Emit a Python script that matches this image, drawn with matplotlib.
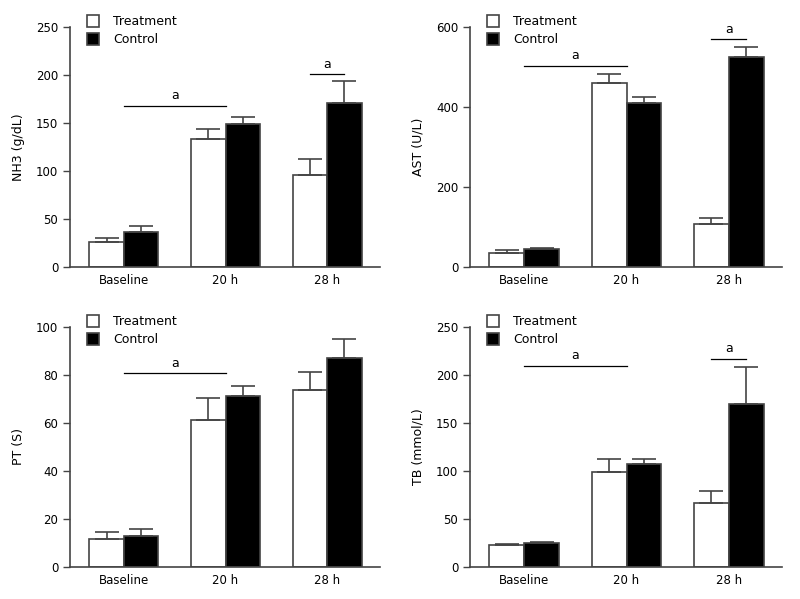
import matplotlib
matplotlib.use("Agg")
import matplotlib.pyplot as plt
import numpy as np

plt.rcParams["font.family"] = ["DejaVu Sans"]

# groups on the x axis
groups = ["Baseline", "20 h", "28 h"]

# NH3 (g/dL)
nh3_treat = [26, 133, 96]
nh3_treat_se = [4, 11, 17]
nh3_ctrl = [37, 149, 171]
nh3_ctrl_se = [6, 7, 23]

# AST (U/L)
ast_treat = [36, 460, 107]
ast_treat_se = [8, 22, 17]
ast_ctrl = [45, 410, 524]
ast_ctrl_se = [4, 15, 27]

# PT (S)
pt_treat = [11.6, 61, 73.7]
pt_treat_se = [3.1, 9.3, 7.3]
pt_ctrl = [13, 71, 87]
pt_ctrl_se = [3, 4.5, 8]

# TB (mmol/L)
tb_treat = [22.6, 99, 67]
tb_treat_se = [1.8, 13.5, 12]
tb_ctrl = [24.5, 107, 170]
tb_ctrl_se = [1.5, 5.5, 38]

# significance brackets: (from, to, height)
nh3_sig = [(0, 1, 168), (1.83, 2.17, 201)]
ast_sig = [(0, 1, 503), (1.83, 2.17, 569)]
pt_sig = [(0, 1, 80.7)]
tb_sig = [(0, 1, 209.6), (1.83, 2.17, 217)]

edge = "#444444"
w = 0.34


def panel(ax, treat, treat_se, ctrl, ctrl_se, sig, ylabel, ymax, ystep):
    x = np.arange(len(groups))
    zeros = [0] * len(groups)
    b1 = ax.bar(x - w / 2, treat, w, color="white", edgecolor=edge, linewidth=1.2,
                yerr=[zeros, treat_se], error_kw=dict(ecolor=edge, elinewidth=1.2, capsize=8.5, capthick=1.2),
                label="Treatment", zorder=2)
    b2 = ax.bar(x + w / 2, ctrl, w, color="black", edgecolor=edge, linewidth=1.2,
                yerr=[zeros, ctrl_se], error_kw=dict(ecolor=edge, elinewidth=1.2, capsize=8.5, capthick=1.2),
                label="Control", zorder=2)
    for x0, x1, y in sig:
        ax.plot([x0, x1], [y, y], color="black", lw=0.9)
        ax.annotate("a", xy=((x0 + x1) / 2, y), xytext=(0, 2.5), textcoords="offset points",
                    ha="center", va="bottom", fontsize=9)
    ax.set_xlim(-0.53, 2.52)
    ax.set_ylim(0, ymax)
    ax.set_yticks(np.arange(0, ymax + 1, ystep))
    ax.set_xticks(x)
    ax.set_xticklabels(groups)
    ax.tick_params(axis="x", length=0, pad=5, labelsize=8.5)
    ax.tick_params(axis="y", direction="out", length=5, width=1, color=edge, labelsize=8.5)
    for s in ["top", "right"]:
        ax.spines[s].set_visible(False)
    for s in ["left", "bottom"]:
        ax.spines[s].set_color(edge)
        ax.spines[s].set_linewidth(1.2)
    ax.set_ylabel(ylabel, fontsize=9, labelpad=8)
    ax.legend(handles=[b1.patches[0], b2.patches[0]], labels=["Treatment", "Control"],
              loc="upper left", bbox_to_anchor=(0.04, 1.07), frameon=False, fontsize=9,
              handlelength=0.95, handleheight=1.1, handletextpad=1.1, labelspacing=0.35,
              borderaxespad=0)


fig = plt.figure(figsize=(8, 5.99), dpi=100)
ax1 = fig.add_axes([0.0875, 0.554, 0.3875, 0.401])
ax2 = fig.add_axes([0.5875, 0.554, 0.39, 0.401])
ax3 = fig.add_axes([0.0875, 0.0534, 0.3875, 0.401])
ax4 = fig.add_axes([0.5875, 0.0534, 0.39, 0.401])

panel(ax1, nh3_treat, nh3_treat_se, nh3_ctrl, nh3_ctrl_se, nh3_sig, "NH3 (g/dL)", 250, 50)
panel(ax2, ast_treat, ast_treat_se, ast_ctrl, ast_ctrl_se, ast_sig, "AST (U/L)", 600, 200)
panel(ax3, pt_treat, pt_treat_se, pt_ctrl, pt_ctrl_se, pt_sig, "PT (S)", 100, 20)
panel(ax4, tb_treat, tb_treat_se, tb_ctrl, tb_ctrl_se, tb_sig, "TB (mmol/L)", 250, 50)

fig.savefig("out.png", dpi=100)
